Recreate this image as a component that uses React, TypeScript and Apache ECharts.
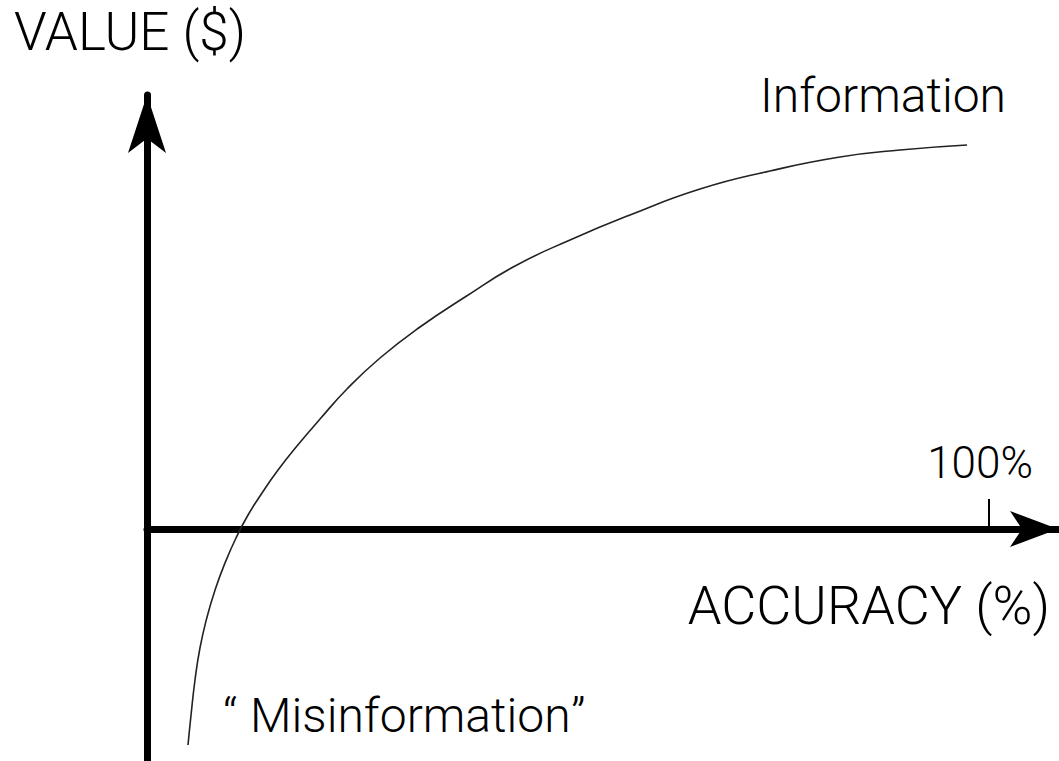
import React, { useEffect, useRef } from "react";
import * as echarts from "echarts";

// Curve: accuracy (%) vs value (arbitrary $ units, 0 = horizontal axis)
const accuracy = [4.87, 5.23, 5.7, 6.29, 7.13, 8.08, 9.26, 10.57, 12.0, 13.66, 15.56, 17.81, 20.55, 23.75, 27.67, 32.42, 37.77, 43.71, 50.24, 57.36, 65.68, 73.99, 82.3, 89.43, 97.39];
const value = [-53.33, -45.93, -37.28, -29.38, -21.73, -15.06, -8.4, -2.22, 3.46, 8.89, 14.57, 20.49, 27.16, 34.57, 42.22, 49.88, 57.28, 64.94, 71.36, 77.53, 83.95, 88.4, 91.85, 93.58, 94.81];

const xTicks = [100];
const xTickLabels = ["100%"];
const xAxisName = "ACCURACY (%)";
const yAxisName = "VALUE ($)";
const infoLabel = "Information";
const misinfoWord = "Misinformation";
const quotes = ["\u201C", "\u201D"];

const FONT = "Roboto, 'Liberation Sans', sans-serif";

const textStyle = (text: string, fontSize: number, x: number, y: number, align = "left") => ({
  type: "text",
  x,
  y,
  silent: true,
  style: {
    text,
    fontFamily: FONT,
    fontWeight: 300,
    fontSize,
    fill: "#000",
    align,
    verticalAlign: "middle",
  },
});

export default function App() {
  const ref = useRef<HTMLDivElement>(null);

  useEffect(() => {
    if (!ref.current) return;
    const chart = echarts.init(ref.current, undefined, { renderer: "svg" });
    const data = accuracy.map((a, i) => [a, value[i]]);
    chart.setOption({
      animation: false,
      backgroundColor: "#ffffff",
      grid: { left: 147, right: 1, top: 95, bottom: 0, containLabel: false, outerBoundsMode: "none" },
      xAxis: {
        type: "value",
        min: 0,
        max: 108.19,
        name: xAxisName,
        nameLocation: "end",
        nameGap: -8,
        nameMoveOverlap: false,
        nameTextStyle: {
          fontFamily: FONT,
          fontWeight: 300,
          fontSize: 54,
          color: "#000",
          align: "right",
          verticalAlign: "top",
          padding: [49, 0, 0, 0],
        },
        axisLine: {
          show: true,
          onZero: true,
          symbol: ["none", "arrow"],
          symbolSize: [27, 48],
          lineStyle: { color: "#000", width: 7 },
        },
        axisTick: {
          show: true,
          inside: true,
          length: 30,
          customValues: xTicks,
          lineStyle: { color: "#000", width: 2 },
        },
        axisLabel: { show: false },
        splitLine: { show: false },
      },
      yAxis: {
        type: "value",
        min: -57.28,
        max: 107.16,
        name: yAxisName,
        nameLocation: "end",
        nameGap: 36.5,
        nameMoveOverlap: false,
        nameTextStyle: {
          fontFamily: FONT,
          fontWeight: 300,
          fontSize: 53,
          color: "#000",
          padding: [0, 34, 0, 0],
        },
        axisLine: {
          show: true,
          onZero: true,
          symbol: ["none", "arrow"],
          symbolSize: [28.5, 58],
          lineStyle: { color: "#000", width: 7 },
        },
        axisTick: { show: false },
        axisLabel: { show: false },
        splitLine: { show: false },
      },
      series: [
        {
          type: "line",
          data,
          smooth: true,
          showSymbol: false,
          symbol: "none",
          lineStyle: { color: "#222", width: 1.6 },
          z: 1,
        },
      ],
    });

    // Tick label placed from the axis scale
    const tickPx = chart.convertToPixel({ xAxisIndex: 0, yAxisIndex: 0 }, [xTicks[0], 0]) as number[];
    chart.setOption({
      graphic: [
        textStyle(xTickLabels[0], 44, tickPx[0] - 9, tickPx[1] - 66, "center"),
        textStyle(infoLabel, 48, 760, 95),
        textStyle(quotes[0], 48, 223, 715.6),
        textStyle(misinfoWord, 48, 250, 715.6),
        textStyle(quotes[1], 48, 571, 715.6),
      ],
    });
    return () => chart.dispose();
  }, []);

  return (
    <div
      ref={ref}
      style={{ position: "fixed", left: 0, top: 0, width: 1059, height: 761, background: "#fff" }}
    />
  );
}
